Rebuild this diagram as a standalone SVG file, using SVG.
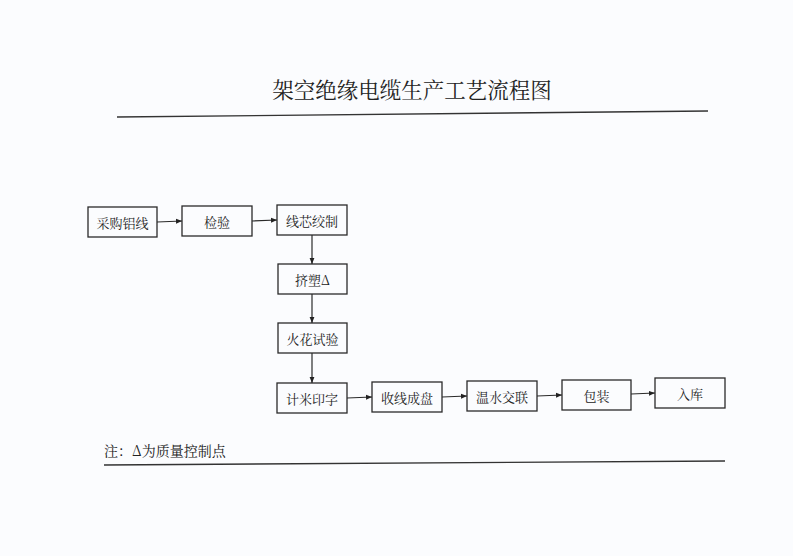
<svg xmlns="http://www.w3.org/2000/svg" width="793" height="556" viewBox="0 0 793 556">
<defs>
<style>
.box{fill:none;stroke:#2a2a2a;stroke-width:1.3}
.t{font-family:"Noto Serif CJK SC","Noto Sans CJK SC",serif;font-size:13px;fill:#222;text-anchor:middle;dominant-baseline:central}
.c{stroke:#2a2a2a;stroke-width:1.2;fill:none;marker-end:url(#ah)}
.rule{stroke:#333;stroke-width:1.4}
</style>
<marker id="ah" viewBox="0 0 10 10" refX="10" refY="5" markerWidth="6" markerHeight="6" markerUnits="userSpaceOnUse" orient="auto">
<path d="M0,1 L10,5 L0,9 z" fill="#222"/>
</marker>
</defs>
<rect width="793" height="556" fill="#fbfcfe"/>
<text x="412" y="88" font-family="&quot;Noto Serif CJK SC&quot;,&quot;Noto Sans CJK SC&quot;,serif" font-size="21.5" fill="#222" text-anchor="middle" dominant-baseline="central">架空绝缘电缆生产工艺流程图</text>
<line class="rule" x1="117" y1="117" x2="708" y2="111"/>
<g id="connectors">
<line class="c" x1="157" y1="222" x2="182" y2="221"/>
<line class="c" x1="252" y1="221" x2="277" y2="220"/>
<line class="c" x1="312" y1="235" x2="312" y2="264"/>
<line class="c" x1="312" y1="294" x2="312" y2="323"/>
<line class="c" x1="312" y1="353" x2="312" y2="383"/>
<line class="c" x1="347" y1="398" x2="372" y2="397"/>
<line class="c" x1="442" y1="397" x2="467" y2="396"/>
<line class="c" x1="537" y1="396" x2="562" y2="395"/>
<line class="c" x1="631" y1="394" x2="655" y2="393"/>
</g>
<g id="n1"><rect class="box" x="88" y="207" width="69" height="30"/><text class="t" x="122.5" y="222">采购铝线</text></g>
<g id="n2"><rect class="box" x="182" y="206" width="70" height="30"/><text class="t" x="217" y="221">检验</text></g>
<g id="n3"><rect class="box" x="277" y="205" width="70" height="30"/><text class="t" x="312" y="220">线芯绞制</text></g>
<g id="n4"><rect class="box" x="278" y="264" width="69" height="30"/><text class="t" x="312.5" y="279">挤塑Δ</text></g>
<g id="n5"><rect class="box" x="278" y="323" width="69" height="30"/><text class="t" x="312.5" y="338">火花试验</text></g>
<g id="n6"><rect class="box" x="277" y="383" width="70" height="30"/><text class="t" x="312" y="398">计米印字</text></g>
<g id="n7"><rect class="box" x="372" y="382" width="70" height="30"/><text class="t" x="407" y="397">收线成盘</text></g>
<g id="n8"><rect class="box" x="467" y="381" width="70" height="30"/><text class="t" x="502" y="396">温水交联</text></g>
<g id="n9"><rect class="box" x="562" y="380" width="69" height="30"/><text class="t" x="596.5" y="395">包装</text></g>
<g id="n10"><rect class="box" x="655" y="378" width="70" height="30"/><text class="t" x="690" y="393">入库</text></g>
<text x="104" y="450" font-family="&quot;Noto Serif CJK SC&quot;,&quot;Noto Sans CJK SC&quot;,serif" font-size="14" fill="#222" dominant-baseline="central">注：Δ为质量控制点</text>
<line class="rule" x1="104" y1="465" x2="725" y2="461"/>
</svg>
